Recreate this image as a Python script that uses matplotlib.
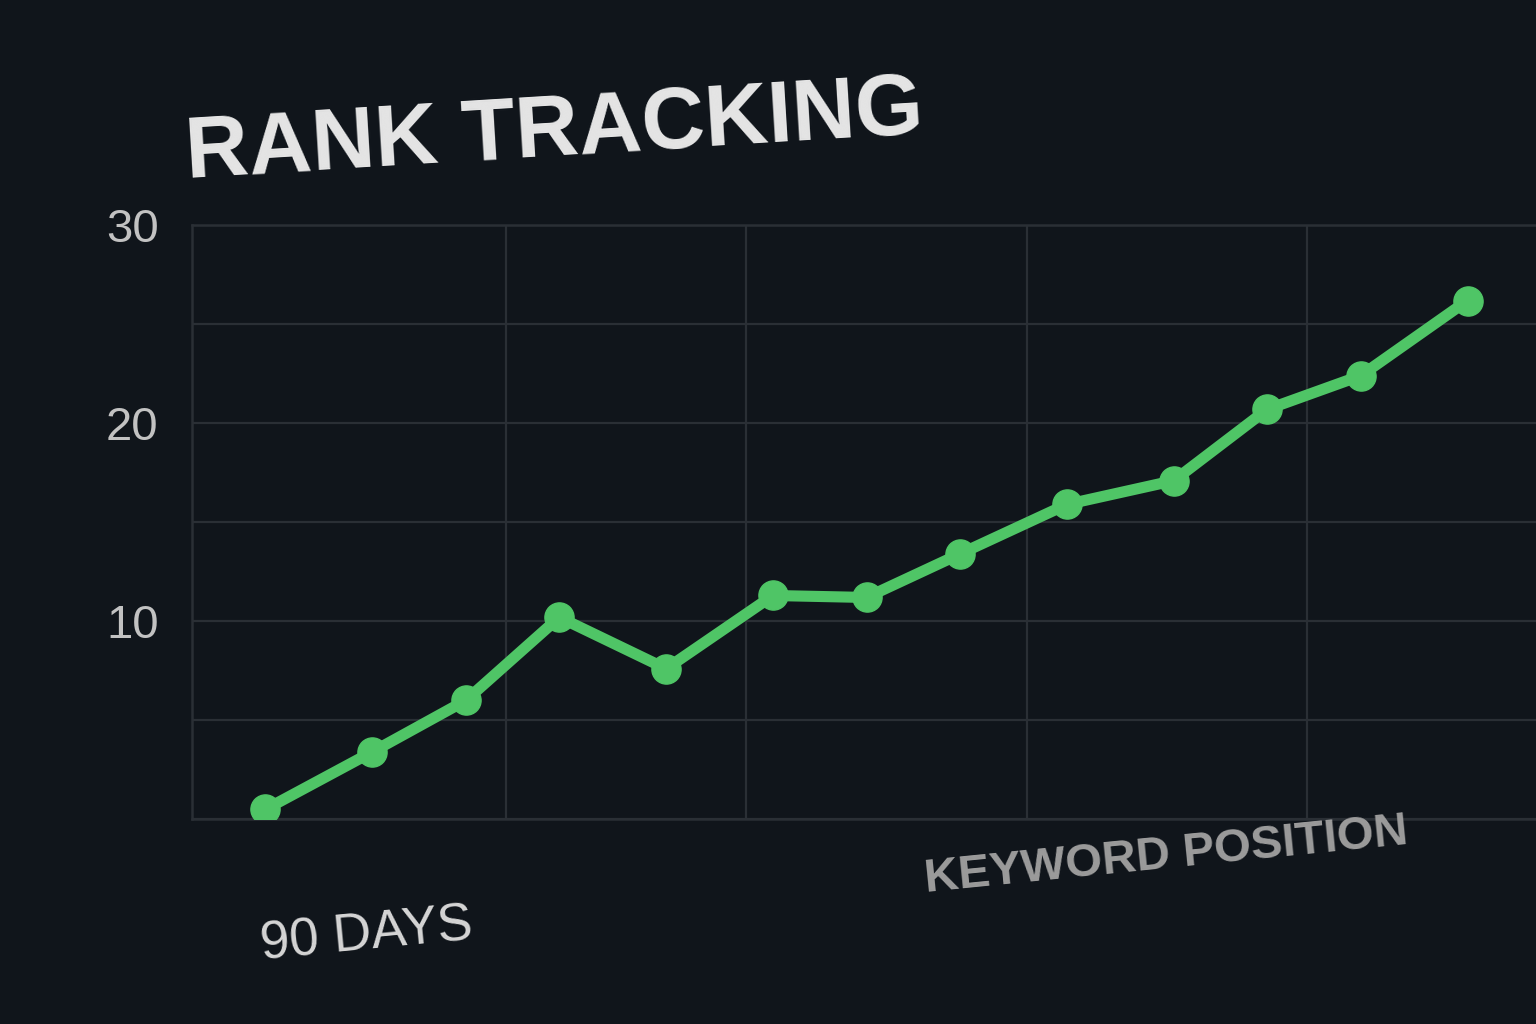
import matplotlib
matplotlib.use("Agg")
import matplotlib.pyplot as plt
import numpy as np

# rank tracking data
days = [0, 8, 15, 22, 30, 38, 45, 52, 60, 68, 75, 82, 90]
position = [0.5, 3.4, 6.0, 10.2, 7.6, 11.3, 11.2, 13.4, 15.9, 17.1, 20.7, 22.4, 26.2]

ytick_vals = [10, 20, 30]
ygrid_vals = [0, 5, 10, 15, 20, 25, 30]
xgrid_vals = [18, 36, 57, 78]

bg = '#10151b'
grid_col = '#2a2f35'
green = '#4fc566'
font = 'Liberation Sans'

fig = plt.figure(figsize=(15.36, 10.24), dpi=100, facecolor=bg)
ax = fig.add_axes([0.125, 0.200, 0.90, 0.580])
ax.set_facecolor(bg)

ax.plot(days, position, color=green, lw=8, marker='o', markersize=21,
        solid_capstyle='round', solid_joinstyle='round', zorder=3)

ax.set_xlim(-5.5, 98)
ax.set_ylim(0, 30)

ax.set_yticks(ygrid_vals)
ax.set_yticklabels([str(v) if v in ytick_vals else '' for v in ygrid_vals])
ax.set_xticks(xgrid_vals)
ax.set_xticklabels([])
ax.grid(True, color=grid_col, lw=1.6)
ax.tick_params(axis='both', length=0)
ax.tick_params(axis='y', labelsize=34, labelcolor='#c2c2c2', pad=24)

for s in ['left', 'bottom', 'top']:
    ax.spines[s].set_color(grid_col)
    ax.spines[s].set_linewidth(1.8)
ax.spines['right'].set_visible(False)

for lab in ax.get_yticklabels():
    lab.set_fontfamily(font)

fig.text(0.122, 1 - 178 / 1024, 'RANK TRACKING', fontsize=63, fontweight='bold',
         family=font, color='#e6e6e6', rotation=3.5, rotation_mode='anchor',
         ha='left', va='baseline')
fig.text(262 / 1536, 1 - 960 / 1024, '90 DAYS', fontsize=38, family=font,
         color='#d6d6d6', rotation=5.5, rotation_mode='anchor', ha='left', va='baseline')
fig.text(926 / 1536, 1 - 892 / 1024, 'KEYWORD POSITION', fontsize=34, fontweight='bold',
         family=font, color='#9c9c9c', rotation=5.7, rotation_mode='anchor',
         ha='left', va='baseline')

fig.savefig('out.png', dpi=100, facecolor=bg)
